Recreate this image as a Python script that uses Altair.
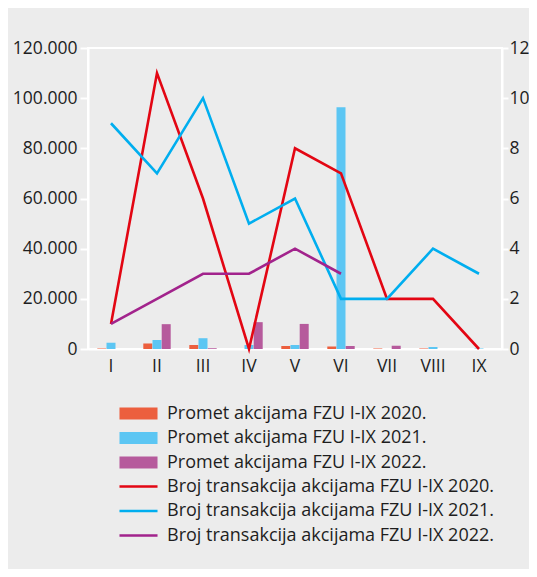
import altair as alt
import pandas as pd

months = ["I", "II", "III", "IV", "V", "VI", "VII", "VIII", "IX"]

promet_2020 = [200, 2200, 1600, 0, 1200, 1000, 200, 200, 0]
promet_2021 = [2500, 3600, 4300, 1600, 1600, 96400, 0, 800, 200]
promet_2022 = [0, 9900, 300, 10700, 10000, 1200, 1300, 0, 0]

broj_2020 = [1, 11, 6, 0, 8, 7, 2, 2, 0]
broj_2021 = [9, 7, 10, 5, 6, 2, 2, 4, 3]
broj_2022 = [1, 2, 3, 3, 4, 3, None, None, None]

bar_labels = [
    "Promet akcijama FZU I-IX 2020.",
    "Promet akcijama FZU I-IX 2021.",
    "Promet akcijama FZU I-IX 2022.",
]
line_labels = [
    "Broj transakcija akcijama FZU I-IX 2020.",
    "Broj transakcija akcijama FZU I-IX 2021.",
    "Broj transakcija akcijama FZU I-IX 2022.",
]
bar_colors = ["#ec5f3e", "#5cc6f3", "#b65a9c"]
line_colors = ["#e30613", "#00aeef", "#a2238c"]

bar_rows = []
for lab, vals in zip(bar_labels, [promet_2020, promet_2021, promet_2022]):
    for m, v in zip(months, vals):
        bar_rows.append({"month": m, "series": lab, "value": v})
bars_df = pd.DataFrame(bar_rows)

line_rows = []
for lab, vals in zip(line_labels, [broj_2020, broj_2021, broj_2022]):
    for m, v in zip(months, vals):
        if v is not None:
            line_rows.append({"month": m, "series": lab, "value": v})
lines_df = pd.DataFrame(line_rows)

FONT = "Open Sans"
TXT = "#1e1e1e"

x_enc = alt.X(
    "month:N",
    sort=months,
    scale=alt.Scale(paddingInner=0, paddingOuter=0),
    axis=alt.Axis(
        title=None, labelAngle=0, ticks=False, domainColor="white", domainWidth=2,
        labelPadding=8, labelFontSize=17.5, labelFont=FONT, labelColor=TXT, grid=False,
    ),
)

bars = alt.Chart(bars_df).mark_bar(width=9).encode(
    x=x_enc,
    xOffset=alt.XOffset("series:N", sort=bar_labels,
                        scale=alt.Scale(paddingInner=0, paddingOuter=1)),
    y=alt.Y(
        "value:Q",
        scale=alt.Scale(domain=[0, 120000], nice=False),
        axis=alt.Axis(
            title=None, orient="left", values=[0, 20000, 40000, 60000, 80000, 100000, 120000],
            labelExpr="replace(format(datum.value, ',d'), ',', '.')",
            domainColor="white", domainWidth=2, tickColor="white", tickWidth=2, tickSize=8,
            labelPadding=3, labelFontSize=17.5, labelFont=FONT, labelColor=TXT, grid=False,
        ),
    ),
    color=alt.Color(
        "series:N",
        scale=alt.Scale(domain=bar_labels, range=bar_colors),
        legend=alt.Legend(
            title=None, orient="none", legendX=41.5, legendY=356.5,
            symbolType="M-3.17,-1H3.17V1H-3.17Z", symbolSize=144, symbolStrokeWidth=0,
            symbolOpacity=1, labelFontSize=18, labelFont=FONT, labelColor=TXT,
            labelOffset=19.5, rowPadding=6.5, padding=0, labelLimit=450,
        ),
    ),
)

lines = alt.Chart(lines_df).mark_line(strokeWidth=2.6).encode(
    x=x_enc,
    y=alt.Y(
        "value:Q",
        scale=alt.Scale(domain=[0, 12], nice=False),
        axis=alt.Axis(
            title=None, orient="right", values=[0, 2, 4, 6, 8, 10, 12],
            domainColor="white", domainWidth=2, tickColor="white", tickWidth=2, tickSize=6,
            labelPadding=1, labelFontSize=17.5, labelFont=FONT, labelColor=TXT, grid=False,
        ),
    ),
    color=alt.Color(
        "series:N",
        scale=alt.Scale(domain=line_labels, range=line_colors),
        legend=alt.Legend(
            title=None, orient="none", legendX=41.5, legendY=429.5,
            symbolType="M-3.17,0H3.17", symbolSize=144, symbolStrokeWidth=2.6,
            labelFontSize=18, labelFont=FONT, labelColor=TXT,
            labelOffset=19.5, rowPadding=6.5, padding=0, labelLimit=450,
        ),
    ),
)

chart = (
    alt.layer(bars, lines)
    .resolve_scale(y="independent", color="independent")
    .properties(
        width=414, height=301, autosize="none",
        padding={"left": 80, "top": 40, "right": 27, "bottom": 220},
        background="#ececec",
    )
    .configure_view(stroke="white", strokeWidth=2)
)

chart.save("out.html", embed_options={"renderer": "svg", "actions": False})
